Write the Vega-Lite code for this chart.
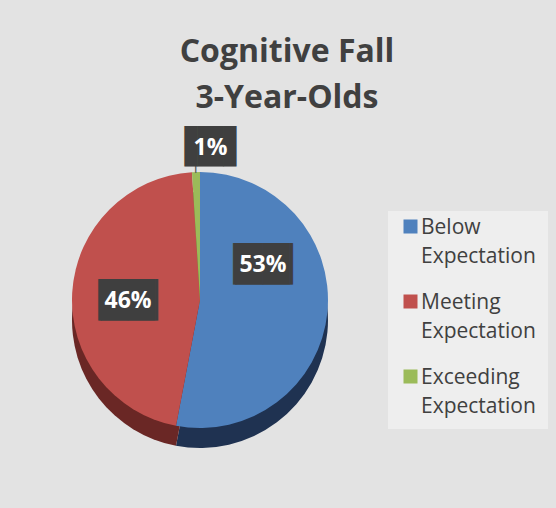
{
  "$schema": "https://vega.github.io/schema/vega-lite/v6.json",
  "width": 256,
  "height": 256,
  "autosize": {"type": "none"},
  "padding": {"left": 72, "top": 172, "right": 228, "bottom": 80},
  "background": "#e3e3e3",
  "config": {
    "view": {"stroke": null},
    "style": {"guide-label": {"lineHeight": 29}}
  },
  "title": {
    "text": ["Cognitive Fall", "3-Year-Olds"],
    "font": "Open Sans",
    "fontSize": 32,
    "fontWeight": "bold",
    "color": "#404040",
    "lineHeight": 46,
    "anchor": "middle",
    "frame": "group",
    "dx": 87,
    "offset": 16
  },
  "data": {
    "values": [
      {"category": "Below Expectation", "pct": 53, "idx": 1},
      {"category": "Meeting Expectation", "pct": 46, "idx": 2},
      {"category": "Exceeding Expectation", "pct": 1, "idx": 3}
    ]
  },
  "transform": [
    {"calculate": "datum.pct + '%'", "as": "label"},
    {"calculate": "datum.pct < 10 ? '▐█▌' : '▕██▏'", "as": "box"}
  ],
  "encoding": {
    "theta": {"field": "pct", "type": "quantitative", "stack": true},
    "order": {"field": "idx", "type": "quantitative"}
  },
  "layer": [
    {
      "mark": {"type": "arc", "outerRadius": 128, "yOffset": 20},
      "encoding": {
        "fill": {
          "field": "idx",
          "type": "ordinal",
          "scale": {
            "domain": [1, 2, 3],
            "range": ["#1f3251", "#6a2725", "#5c7430"]
          },
          "legend": null
        }
      }
    },
    {
      "mark": {"type": "arc", "outerRadius": 128},
      "encoding": {
        "color": {
          "field": "category",
          "type": "nominal",
          "scale": {
            "domain": ["Below Expectation", "Meeting Expectation", "Exceeding Expectation"],
            "range": ["#4f81bd", "#c0504d", "#9bbb59"]
          },
          "legend": {
            "title": null,
            "orient": "none",
            "legendX": 316,
            "legendY": 39,
            "fillColor": "#eeeeee",
            "padding": 12,
            "symbolType": "M-1,-2L1,-2L1,0L-1,0Z",
            "symbolSize": 196,
            "symbolStrokeWidth": 0,
            "labelFont": "Open Sans",
            "labelFontSize": 21,
            "labelColor": "#404040",
            "labelBaseline": "alphabetic",
            "labelOffset": 0,
            "labelLimit": 250,
            "rowPadding": 24,
            "labelExpr": "split(datum.label, ' ')"
          }
        }
      }
    },
    {
      "mark": {"type": "text", "radius": 136, "font": "DejaVu Sans", "fontSize": 16, "color": "#595959"},
      "encoding": {
        "text": {"condition": {"test": "datum.idx == 3", "value": "│"}, "value": ""}
      }
    },
    {
      "mark": {"type": "text", "radius": 72, "thetaOffset": -0.6, "font": "DejaVu Sans", "fontSize": 35, "color": "#3f3f3f", "baseline": "middle"},
      "encoding": {
        "text": {"condition": {"test": "datum.idx == 1", "field": "box"}, "value": ""}
      }
    },
    {
      "mark": {"type": "text", "radius": 72, "thetaOffset": -0.6, "font": "Open Sans", "fontSize": 23, "fontWeight": "bold", "color": "white", "baseline": "middle"},
      "encoding": {
        "text": {"condition": {"test": "datum.idx == 1", "field": "label"}, "value": ""}
      }
    },
    {
      "mark": {"type": "text", "radius": 72, "thetaOffset": -0.08, "font": "DejaVu Sans", "fontSize": 35, "color": "#3f3f3f", "baseline": "middle"},
      "encoding": {
        "text": {"condition": {"test": "datum.idx == 2", "field": "box"}, "value": ""}
      }
    },
    {
      "mark": {"type": "text", "radius": 72, "thetaOffset": -0.08, "font": "Open Sans", "fontSize": 23, "fontWeight": "bold", "color": "white", "baseline": "middle"},
      "encoding": {
        "text": {"condition": {"test": "datum.idx == 2", "field": "label"}, "value": ""}
      }
    },
    {
      "mark": {"type": "text", "radius": 152, "thetaOffset": 0.1, "font": "DejaVu Sans", "fontSize": 34, "color": "#3f3f3f", "baseline": "middle"},
      "encoding": {
        "text": {"condition": {"test": "datum.idx == 3", "field": "box"}, "value": ""}
      }
    },
    {
      "mark": {"type": "text", "radius": 152, "thetaOffset": 0.1, "font": "Open Sans", "fontSize": 23, "fontWeight": "bold", "color": "white", "baseline": "middle"},
      "encoding": {
        "text": {"condition": {"test": "datum.idx == 3", "field": "label"}, "value": ""}
      }
    }
  ]
}
